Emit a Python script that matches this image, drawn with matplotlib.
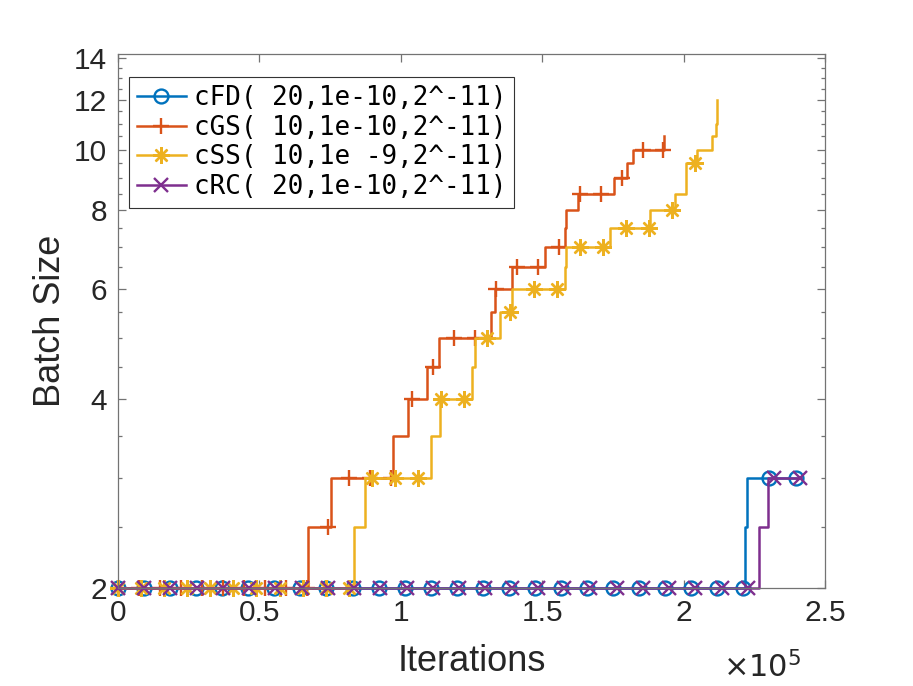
import numpy as np
import matplotlib
matplotlib.use("Agg")
import matplotlib.pyplot as plt
from matplotlib.ticker import FixedLocator, FixedFormatter, NullFormatter

# === Data: batch size changes (iteration where it changes, new value) ===
fd_change = [221600, 222300]
fd_values = [2, 2.5, 3]
fd_end = 239600
fd_mark = 9215

gs_change = [67100, 75300, 97200, 102500, 109200, 113400, 131800, 133200,
             139200, 150900, 158000, 158300, 162500, 175300, 179900, 182000,
             192900]
gs_values = [2, 2.5, 3, 3.5, 4, 4.5, 5, 5.5, 6, 6.5, 7, 7.5, 8, 8.5, 9,
             9.5, 10, 10.5]
gs_end = 192900
gs_mark = 7419

ss_change = [83400, 87300, 110600, 113800, 125100, 126100, 135000, 139200,
             158000, 158300, 173900, 188300, 196800, 200700, 204600, 210200,
             211300, 211660]
ss_values = [2, 2.5, 3, 3.5, 4, 4.5, 5, 5.5, 6, 6.5, 7, 7.5, 8, 8.5, 9.5,
             10, 10.5, 11, 12]
ss_end = 211660
ss_mark = 8163

rc_change = [226500, 229700]
rc_values = [2, 2.5, 3]
rc_end = 241350
rc_mark = 9282

labels = ["cFD( 20,1e-10,2^-11)", "cGS( 10,1e-10,2^-11)",
          "cSS( 10,1e -9,2^-11)", "cRC( 20,1e-10,2^-11)"]

x_ticks = [0, 50000, 100000, 150000, 200000, 250000]
x_tick_labels = ["0", "0.5", "1", "1.5", "2", "2.5"]
y_ticks = [2, 4, 6, 8, 10, 12, 14]


def build(change, values, end, mark_every):
    change = np.asarray(change, dtype=float)
    values = np.asarray(values, dtype=float)
    marks = np.arange(0, end + 1, mark_every)
    x = np.union1d(np.r_[0, change, end], marks)
    x = x[x <= end]
    y = values[np.searchsorted(change, x, side="right")]
    idx = list(np.searchsorted(x, marks))
    return x, y, idx


series = [
    (fd_change, fd_values, fd_end, fd_mark, "#0072BD", "o", 10),
    (gs_change, gs_values, gs_end, gs_mark, "#D95319", "+", 12),
    (ss_change, ss_values, ss_end, ss_mark, "#EDB120", (8, 2, 0), 12),
    (rc_change, rc_values, rc_end, rc_mark, "#7E2F8E", "x", 9.5),
]

fig = plt.figure(figsize=(9.13, 6.86), dpi=100)
ax = fig.add_axes([0.1292, 0.1429, 0.7744, 0.7784])

for (ch, vals, end, me, color, mk, ms), lab in zip(series, labels):
    x, y, idx = build(ch, vals, end, me)
    ax.plot(x, y, drawstyle="steps-post", color=color, lw=1.8,
            marker=mk, markevery=idx, ms=ms, mfc="none", mew=1.7,
            label=lab, clip_on=False)

ax.set_yscale("log")
ax.set_xlim(0, 250000)
ax.set_ylim(2, 14.2)

ax.set_xticks(x_ticks)
ax.set_xticklabels(x_tick_labels)
ax.yaxis.set_major_locator(FixedLocator(y_ticks))
ax.yaxis.set_major_formatter(FixedFormatter([str(v) for v in y_ticks]))
minor = [v for v in np.arange(2.5, 14.0, 0.5) if v not in y_ticks]
ax.yaxis.set_minor_locator(FixedLocator(minor))
ax.yaxis.set_minor_formatter(NullFormatter())

tick_font = "Liberation Sans"
ax.tick_params(which="both", direction="in", top=True, right=True,
               colors="0.45", labelcolor="0.15", width=0.9)
ax.tick_params(which="major", length=6, labelsize=21.5, pad=8)
ax.tick_params(which="minor", length=3)
for t in ax.get_xticklabels() + ax.get_yticklabels():
    t.set_fontfamily(tick_font)
for s in ax.spines.values():
    s.set_color("0.45")
    s.set_linewidth(0.9)

ax.set_xlabel("Iterations", fontsize=26, family=tick_font, color="0.15",
              labelpad=12)
ax.set_ylabel("Batch Size", fontsize=26, family=tick_font, color="0.15",
              labelpad=4)
ax.text(0.966, -0.168, r"$\times10^{5}$", transform=ax.transAxes,
        ha="right", va="baseline", fontsize=22, color="0.15",
        family=tick_font)

leg = ax.legend(loc="upper left", bbox_to_anchor=(0.0156, 0.957),
                borderaxespad=0, fancybox=False, framealpha=1,
                edgecolor="0.2", handlelength=1.9, handletextpad=0.3,
                labelspacing=0.15, borderpad=0.3,
                prop={"family": "DejaVu Sans Mono", "size": 18.6})
leg.get_frame().set_linewidth(0.8)

fig.savefig("out.png", dpi=100)
